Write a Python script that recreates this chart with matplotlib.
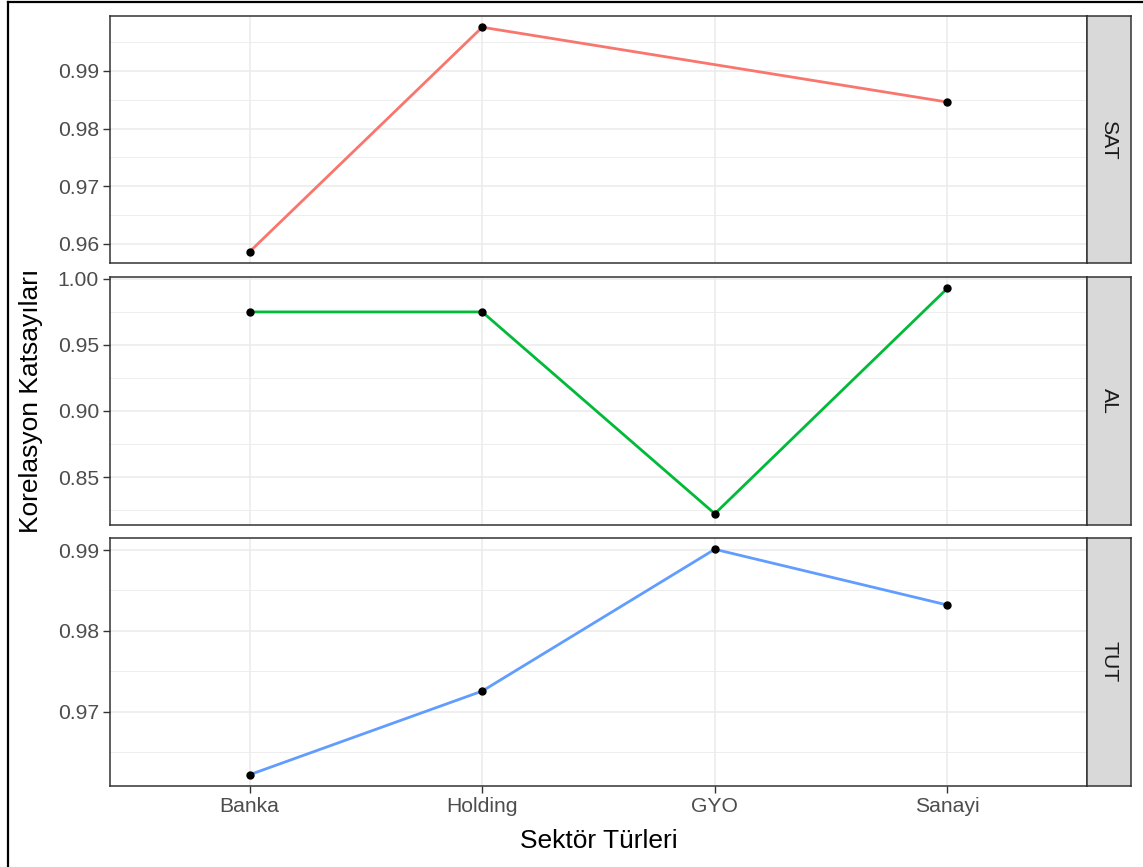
import matplotlib
matplotlib.use("Agg")
import matplotlib.pyplot as plt
from matplotlib.lines import Line2D

plt.rcParams["font.family"] = ["Liberation Sans", "DejaVu Sans"]

# Sectors on the x axis
sectors = ["Banka", "Holding", "GYO", "Sanayi"]

# Correlation coefficients per facet (None = no observation)
sat_values = [0.9586, 0.9976, None, 0.9846]
al_values = [0.975, 0.975, 0.8222, 0.9929]
tut_values = [0.9622, 0.97255, 0.9901, 0.9832]

facet_names = ["SAT", "AL", "TUT"]
facet_colors = ["#F8766D", "#00BA38", "#619CFF"]
facet_ticks = [
    [0.96, 0.97, 0.98, 0.99],
    [0.85, 0.90, 0.95, 1.00],
    [0.97, 0.98, 0.99],
]
facet_ticklabels = [
    ["0.96", "0.97", "0.98", "0.99"],
    ["0.85", "0.90", "0.95", "1.00"],
    ["0.97", "0.98", "0.99"],
]

W, H = 1143, 867
fig = plt.figure(figsize=(W / 100, H / 100), dpi=100)
fig.patch.set_facecolor("white")

# Panel geometry in pixels (left, right, top, bottom)
panel_left, panel_right = 110, 1087
strip_right = 1131
panel_rows = [(16, 263), (277, 525), (538, 786)]

TICK_SIZE = 15.2
TITLE_SIZE = 19


def px_rect(x0, x1, y0, y1):
    return [x0 / W, 1 - y1 / H, (x1 - x0) / W, (y1 - y0) / H]


dark = "#333333"
grid_col = "#EBEBEB"
all_values = [sat_values, al_values, tut_values]

for i, (name, col, vals) in enumerate(zip(facet_names, facet_colors, all_values)):
    top, bot = panel_rows[i]
    ax = fig.add_axes(px_rect(panel_left, panel_right, top, bot))
    xs = [k + 1 for k, v in enumerate(vals) if v is not None]
    ys = [v for v in vals if v is not None]

    ticks = facet_ticks[i]
    step = ticks[1] - ticks[0]
    minors = [t - step / 2 for t in ticks] + [ticks[-1] + step / 2]
    ax.set_yticks(ticks)
    ax.set_yticklabels(facet_ticklabels[i])
    ax.set_yticks(minors, minor=True)
    ax.set_xticks(range(1, len(sectors) + 1))

    # free y scale with 5% padding, discrete x with 0.6 padding
    lo, hi = min(ys), max(ys)
    pad = (hi - lo) * 0.05
    ax.set_ylim(lo - pad, hi + pad)
    ax.set_xlim(0.4, len(sectors) + 0.6)

    ax.grid(True, which="major", color=grid_col, lw=1.1, zorder=0)
    ax.grid(True, which="minor", axis="y", color=grid_col, lw=0.6, zorder=0)
    ax.set_axisbelow(True)

    ax.plot(xs, ys, color=col, lw=2.0, zorder=3, solid_capstyle="butt")
    ax.plot(xs, ys, "o", color="black", ms=5, zorder=4)

    for sp in ax.spines.values():
        sp.set_color(dark)
        sp.set_linewidth(1.1)
    ax.tick_params(axis="both", which="major", colors=dark, length=5, width=1.0,
                   labelsize=TICK_SIZE, labelcolor="#4D4D4D", pad=3)
    ax.tick_params(axis="y", which="minor", length=0)
    if i == 2:
        ax.set_xticklabels(sectors)
    else:
        ax.set_xticklabels([])
        ax.tick_params(axis="x", which="major", length=0)

    # Facet strip on the right
    sax = fig.add_axes(px_rect(panel_right, strip_right, top, bot))
    sax.set_xticks([])
    sax.set_yticks([])
    sax.set_facecolor("#D9D9D9")
    for sp in sax.spines.values():
        sp.set_color(dark)
        sp.set_linewidth(1.1)
    sax.text(0.5, 0.5, name, rotation=270, ha="center", va="center",
             fontsize=TICK_SIZE, color="#1A1A1A", transform=sax.transAxes)

fig.text(598.5 / W, 1 - 841 / H, "Sektör Türleri", ha="center", va="center",
         fontsize=TITLE_SIZE, color="black")
fig.text(31 / W, 1 - 401 / H, "Korelasyon Katsayıları", ha="center", va="center",
         rotation=90, fontsize=TITLE_SIZE, color="black")

# Frame lines along the top and left edges
fig.add_artist(Line2D([8 / W, 1.0], [1 - 2 / H, 1 - 2 / H], color="black", lw=1.6,
                      transform=fig.transFigure))
fig.add_artist(Line2D([8 / W, 8 / W], [0.0, 1 - 2 / H], color="black", lw=1.6,
                      transform=fig.transFigure))

fig.savefig("out.png", dpi=100, facecolor="white")
